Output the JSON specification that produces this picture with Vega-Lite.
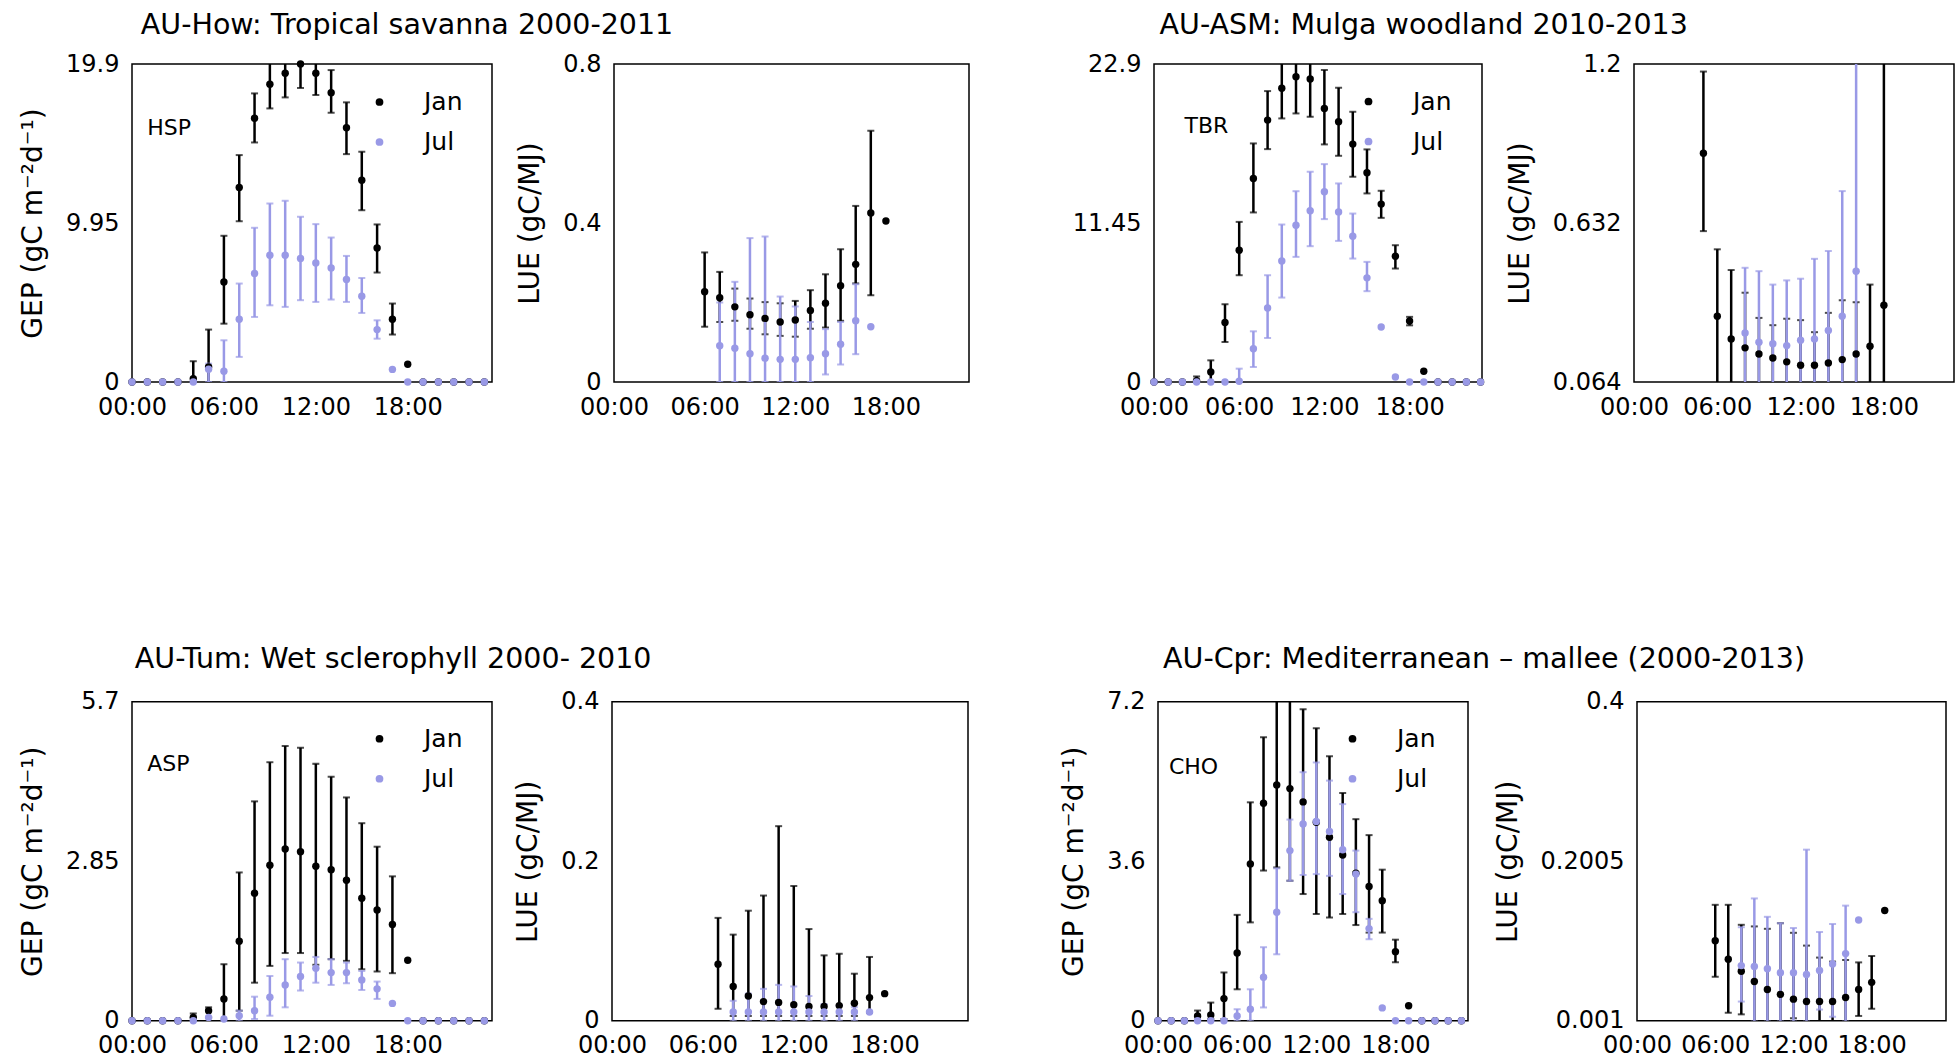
{
"$schema": "https://vega.github.io/schema/vega-lite/v6.json",
"background": "white",
"padding": {"left": 18, "top": 11, "right": 0, "bottom": 0},
"datasets": {
"how_gep": [
{"m":"Jan","h":0,"v":0},{"m":"Jan","h":1,"v":0},{"m":"Jan","h":2,"v":0},{"m":"Jan","h":3,"v":0},
{"m":"Jan","h":4,"v":0.2,"lo":0,"hi":1.3},{"m":"Jan","h":5,"v":0.94,"lo":0,"hi":3.28},
{"m":"Jan","h":6,"v":6.26,"lo":3.65,"hi":9.15},{"m":"Jan","h":7,"v":12.17,"lo":10.06,"hi":14.2},
{"m":"Jan","h":8,"v":16.5,"lo":14.99,"hi":18.06},{"m":"Jan","h":9,"v":18.63,"lo":17.12,"hi":20.2},
{"m":"Jan","h":10,"v":19.32,"lo":17.81,"hi":20.6},{"m":"Jan","h":11,"v":19.9,"lo":18.4,"hi":21.2},
{"m":"Jan","h":12,"v":19.32,"lo":17.96,"hi":20.6},{"m":"Jan","h":13,"v":18.1,"lo":16.85,"hi":19.52},
{"m":"Jan","h":14,"v":15.91,"lo":14.26,"hi":17.5},{"m":"Jan","h":15,"v":12.63,"lo":10.75,"hi":14.41},
{"m":"Jan","h":16,"v":8.39,"lo":6.85,"hi":9.86},{"m":"Jan","h":17,"v":3.93,"lo":2.97,"hi":4.91},
{"m":"Jan","h":18,"v":1.11},{"m":"Jan","h":19,"v":0},{"m":"Jan","h":20,"v":0},{"m":"Jan","h":21,"v":0},{"m":"Jan","h":22,"v":0},{"m":"Jan","h":23,"v":0},
{"m":"Jul","h":0,"v":0},{"m":"Jul","h":1,"v":0},{"m":"Jul","h":2,"v":0},{"m":"Jul","h":3,"v":0},{"m":"Jul","h":4,"v":0},
{"m":"Jul","h":5,"v":0.8,"lo":0,"hi":1.15},{"m":"Jul","h":6,"v":0.67,"lo":0,"hi":2.61},
{"m":"Jul","h":7,"v":3.93,"lo":1.57,"hi":6.16},{"m":"Jul","h":8,"v":6.79,"lo":4.07,"hi":9.65},
{"m":"Jul","h":9,"v":7.93,"lo":4.8,"hi":11.17},{"m":"Jul","h":10,"v":7.93,"lo":4.7,"hi":11.34},
{"m":"Jul","h":11,"v":7.73,"lo":5.12,"hi":10.34},{"m":"Jul","h":12,"v":7.45,"lo":5.01,"hi":9.88},
{"m":"Jul","h":13,"v":7.14,"lo":5.16,"hi":9.04},{"m":"Jul","h":14,"v":6.41,"lo":5.01,"hi":7.89},
{"m":"Jul","h":15,"v":5.37,"lo":4.32,"hi":6.51},{"m":"Jul","h":16,"v":3.28,"lo":2.71,"hi":3.86},
{"m":"Jul","h":17,"v":0.79},{"m":"Jul","h":18,"v":0},{"m":"Jul","h":19,"v":0},{"m":"Jul","h":20,"v":0},{"m":"Jul","h":21,"v":0},{"m":"Jul","h":22,"v":0},{"m":"Jul","h":23,"v":0}
],
"how_lue": [
{"m":"Jan","h":6,"v":0.227,"lo":0.139,"hi":0.326},{"m":"Jan","h":7,"v":0.212,"lo":0.151,"hi":0.277},
{"m":"Jan","h":8,"v":0.189,"lo":0.154,"hi":0.235},{"m":"Jan","h":9,"v":0.169,"lo":0.134,"hi":0.21},
{"m":"Jan","h":10,"v":0.16,"lo":0.12,"hi":0.201},{"m":"Jan","h":11,"v":0.151,"lo":0.116,"hi":0.198},
{"m":"Jan","h":12,"v":0.156,"lo":0.114,"hi":0.204},{"m":"Jan","h":13,"v":0.18,"lo":0.134,"hi":0.231},
{"m":"Jan","h":14,"v":0.198,"lo":0.137,"hi":0.271},{"m":"Jan","h":15,"v":0.242,"lo":0.154,"hi":0.334},
{"m":"Jan","h":16,"v":0.296,"lo":0.248,"hi":0.443},{"m":"Jan","h":17,"v":0.425,"lo":0.218,"hi":0.632},
{"m":"Jan","h":18,"v":0.405},
{"m":"Jul","h":7,"v":0.091,"lo":0,"hi":0.2},{"m":"Jul","h":8,"v":0.085,"lo":0,"hi":0.252},
{"m":"Jul","h":9,"v":0.071,"lo":0,"hi":0.362},{"m":"Jul","h":10,"v":0.06,"lo":0,"hi":0.366},
{"m":"Jul","h":11,"v":0.057,"lo":0,"hi":0.215},{"m":"Jul","h":12,"v":0.057,"lo":0,"hi":0.19},
{"m":"Jul","h":13,"v":0.061,"lo":0,"hi":0.151},{"m":"Jul","h":14,"v":0.071,"lo":0.019,"hi":0.133},
{"m":"Jul","h":15,"v":0.095,"lo":0.044,"hi":0.151},{"m":"Jul","h":16,"v":0.154,"lo":0.07,"hi":0.246},
{"m":"Jul","h":17,"v":0.139}
],
"asm_gep": [
{"m":"Jan","h":0,"v":0},{"m":"Jan","h":1,"v":0},{"m":"Jan","h":2,"v":0},
{"m":"Jan","h":3,"v":0.1,"lo":0,"hi":0.4},{"m":"Jan","h":4,"v":0.72,"lo":0,"hi":1.56},
{"m":"Jan","h":5,"v":4.28,"lo":2.88,"hi":5.6},{"m":"Jan","h":6,"v":9.49,"lo":7.69,"hi":11.53},
{"m":"Jan","h":7,"v":14.66,"lo":12.21,"hi":17.18},{"m":"Jan","h":8,"v":18.86,"lo":16.77,"hi":20.95},
{"m":"Jan","h":9,"v":21.15,"lo":18.98,"hi":23.5},{"m":"Jan","h":10,"v":21.99,"lo":19.34,"hi":23.8},
{"m":"Jan","h":11,"v":21.82,"lo":19.1,"hi":23.6},{"m":"Jan","h":12,"v":19.7,"lo":17.11,"hi":22.47},
{"m":"Jan","h":13,"v":18.74,"lo":16.29,"hi":21.19},{"m":"Jan","h":14,"v":17.13,"lo":14.78,"hi":19.46},
{"m":"Jan","h":15,"v":15.07,"lo":13.58,"hi":16.75},{"m":"Jan","h":16,"v":12.81,"lo":11.82,"hi":13.77},
{"m":"Jan","h":17,"v":9.06,"lo":8.17,"hi":9.85},{"m":"Jan","h":18,"v":4.4,"lo":4.08,"hi":4.69},
{"m":"Jan","h":19,"v":0.77},{"m":"Jan","h":20,"v":0},{"m":"Jan","h":21,"v":0},{"m":"Jan","h":22,"v":0},{"m":"Jan","h":23,"v":0},
{"m":"Jul","h":0,"v":0},{"m":"Jul","h":1,"v":0},{"m":"Jul","h":2,"v":0},{"m":"Jul","h":3,"v":0},{"m":"Jul","h":4,"v":0},{"m":"Jul","h":5,"v":0},
{"m":"Jul","h":6,"v":0.05,"lo":0,"hi":0.96},{"m":"Jul","h":7,"v":2.4,"lo":1.08,"hi":3.65},
{"m":"Jul","h":8,"v":5.33,"lo":3.17,"hi":7.69},{"m":"Jul","h":9,"v":8.72,"lo":6.08,"hi":11.34},
{"m":"Jul","h":10,"v":11.29,"lo":9.01,"hi":13.74},{"m":"Jul","h":11,"v":12.33,"lo":9.78,"hi":15.14},
{"m":"Jul","h":12,"v":13.7,"lo":11.73,"hi":15.69},{"m":"Jul","h":13,"v":12.25,"lo":10.16,"hi":14.3},
{"m":"Jul","h":14,"v":10.5,"lo":8.89,"hi":12.13},{"m":"Jul","h":15,"v":7.5,"lo":6.54,"hi":8.65},
{"m":"Jul","h":16,"v":3.96},{"m":"Jul","h":17,"v":0.36},{"m":"Jul","h":18,"v":0},{"m":"Jul","h":19,"v":0},{"m":"Jul","h":20,"v":0},{"m":"Jul","h":21,"v":0},{"m":"Jul","h":22,"v":0},{"m":"Jul","h":23,"v":0}
],
"asm_lue": [
{"m":"Jan","h":5,"v":0.881,"lo":0.603,"hi":1.173},{"m":"Jan","h":6,"v":0.299,"lo":0,"hi":0.538},
{"m":"Jan","h":7,"v":0.218,"lo":0,"hi":0.464},{"m":"Jan","h":8,"v":0.186,"lo":0,"hi":0.383},
{"m":"Jan","h":9,"v":0.164,"lo":0,"hi":0.293},{"m":"Jan","h":10,"v":0.15,"lo":0,"hi":0.267},
{"m":"Jan","h":11,"v":0.136,"lo":0,"hi":0.29},{"m":"Jan","h":12,"v":0.124,"lo":0,"hi":0.285},
{"m":"Jan","h":13,"v":0.124,"lo":0,"hi":0.242},{"m":"Jan","h":14,"v":0.132,"lo":0,"hi":0.311},
{"m":"Jan","h":15,"v":0.144,"lo":0,"hi":0.356},{"m":"Jan","h":16,"v":0.164,"lo":0,"hi":0.349},
{"m":"Jan","h":17,"v":0.192,"lo":0,"hi":0.412},{"m":"Jan","h":18,"v":0.338,"lo":0,"hi":1.6},
{"m":"Jul","h":8,"v":0.239,"lo":0,"hi":0.472},{"m":"Jul","h":9,"v":0.206,"lo":0,"hi":0.46},
{"m":"Jul","h":10,"v":0.201,"lo":0,"hi":0.412},{"m":"Jul","h":11,"v":0.194,"lo":0,"hi":0.427},
{"m":"Jul","h":12,"v":0.213,"lo":0,"hi":0.433},{"m":"Jul","h":13,"v":0.218,"lo":0,"hi":0.504},
{"m":"Jul","h":14,"v":0.248,"lo":0,"hi":0.532},{"m":"Jul","h":15,"v":0.299,"lo":0,"hi":0.746},
{"m":"Jul","h":16,"v":0.46,"lo":0,"hi":1.6}
],
"tum_gep": [
{"m":"Jan","h":0,"v":0},{"m":"Jan","h":1,"v":0},{"m":"Jan","h":2,"v":0},{"m":"Jan","h":3,"v":0},
{"m":"Jan","h":4,"v":0.06,"lo":0,"hi":0.13},{"m":"Jan","h":5,"v":0.18,"lo":0.06,"hi":0.24},
{"m":"Jan","h":6,"v":0.39,"lo":0,"hi":1.01},{"m":"Jan","h":7,"v":1.42,"lo":0.18,"hi":2.65},
{"m":"Jan","h":8,"v":2.28,"lo":0.68,"hi":3.92},{"m":"Jan","h":9,"v":2.78,"lo":0.98,"hi":4.62},
{"m":"Jan","h":10,"v":3.07,"lo":1.21,"hi":4.91},{"m":"Jan","h":11,"v":3.02,"lo":1.21,"hi":4.88},
{"m":"Jan","h":12,"v":2.76,"lo":1.0,"hi":4.59},{"m":"Jan","h":13,"v":2.7,"lo":1.1,"hi":4.36},
{"m":"Jan","h":14,"v":2.51,"lo":1.07,"hi":3.99},{"m":"Jan","h":15,"v":2.19,"lo":0.92,"hi":3.53},
{"m":"Jan","h":16,"v":1.98,"lo":0.88,"hi":3.11},{"m":"Jan","h":17,"v":1.72,"lo":0.85,"hi":2.58},
{"m":"Jan","h":18,"v":1.08},{"m":"Jan","h":19,"v":0},{"m":"Jan","h":20,"v":0},{"m":"Jan","h":21,"v":0},{"m":"Jan","h":22,"v":0},{"m":"Jan","h":23,"v":0},
{"m":"Jul","h":0,"v":0},{"m":"Jul","h":1,"v":0},{"m":"Jul","h":2,"v":0},{"m":"Jul","h":3,"v":0},{"m":"Jul","h":4,"v":0},
{"m":"Jul","h":5,"v":0.06},{"m":"Jul","h":6,"v":0.03},
{"m":"Jul","h":7,"v":0.09,"lo":0,"hi":0.18},{"m":"Jul","h":8,"v":0.18,"lo":0.03,"hi":0.43},
{"m":"Jul","h":9,"v":0.42,"lo":0.09,"hi":0.8},{"m":"Jul","h":10,"v":0.64,"lo":0.24,"hi":1.1},
{"m":"Jul","h":11,"v":0.79,"lo":0.54,"hi":1.04},{"m":"Jul","h":12,"v":0.94,"lo":0.68,"hi":1.14},
{"m":"Jul","h":13,"v":0.86,"lo":0.64,"hi":1.1},{"m":"Jul","h":14,"v":0.86,"lo":0.67,"hi":1.04},
{"m":"Jul","h":15,"v":0.73,"lo":0.55,"hi":0.89},{"m":"Jul","h":16,"v":0.57,"lo":0.39,"hi":0.7},
{"m":"Jul","h":17,"v":0.31},{"m":"Jul","h":18,"v":0},{"m":"Jul","h":19,"v":0},{"m":"Jul","h":20,"v":0},{"m":"Jul","h":21,"v":0},{"m":"Jul","h":22,"v":0},{"m":"Jul","h":23,"v":0}
],
"tum_lue": [
{"m":"Jan","h":7,"v":0.071,"lo":0.015,"hi":0.129},{"m":"Jan","h":8,"v":0.043,"lo":0.006,"hi":0.108},
{"m":"Jan","h":9,"v":0.031,"lo":0.006,"hi":0.138},{"m":"Jan","h":10,"v":0.024,"lo":0.006,"hi":0.157},
{"m":"Jan","h":11,"v":0.023,"lo":0.006,"hi":0.244},{"m":"Jan","h":12,"v":0.02,"lo":0.006,"hi":0.169},
{"m":"Jan","h":13,"v":0.018,"lo":0.006,"hi":0.115},{"m":"Jan","h":14,"v":0.018,"lo":0.006,"hi":0.082},
{"m":"Jan","h":15,"v":0.019,"lo":0.006,"hi":0.084},{"m":"Jan","h":16,"v":0.022,"lo":0.006,"hi":0.059},
{"m":"Jan","h":17,"v":0.029,"lo":0.01,"hi":0.08},{"m":"Jan","h":18,"v":0.034},
{"m":"Jul","h":8,"v":0.011,"lo":0,"hi":0.025},{"m":"Jul","h":9,"v":0.011,"lo":0,"hi":0.034},
{"m":"Jul","h":10,"v":0.011,"lo":0,"hi":0.04},{"m":"Jul","h":11,"v":0.011,"lo":0,"hi":0.045},
{"m":"Jul","h":12,"v":0.011,"lo":0,"hi":0.043},{"m":"Jul","h":13,"v":0.011,"lo":0,"hi":0.031},
{"m":"Jul","h":14,"v":0.011,"lo":0,"hi":0.021},{"m":"Jul","h":15,"v":0.011,"lo":0,"hi":0.019},
{"m":"Jul","h":16,"v":0.011,"lo":0,"hi":0.017},{"m":"Jul","h":17,"v":0.011}
],
"cpr_gep": [
{"m":"Jan","h":0,"v":0},{"m":"Jan","h":1,"v":0},{"m":"Jan","h":2,"v":0},
{"m":"Jan","h":3,"v":0.11,"lo":0,"hi":0.23},{"m":"Jan","h":4,"v":0.13,"lo":0.04,"hi":0.41},
{"m":"Jan","h":5,"v":0.5,"lo":0.04,"hi":1.09},{"m":"Jan","h":6,"v":1.53,"lo":0.71,"hi":2.39},
{"m":"Jan","h":7,"v":3.54,"lo":2.22,"hi":4.93},{"m":"Jan","h":8,"v":4.91,"lo":3.39,"hi":6.4},
{"m":"Jan","h":9,"v":5.32,"lo":3.46,"hi":7.6},{"m":"Jan","h":10,"v":5.24,"lo":3.16,"hi":7.6},
{"m":"Jan","h":11,"v":4.94,"lo":2.86,"hi":7.03},{"m":"Jan","h":12,"v":4.48,"lo":2.41,"hi":6.6},
{"m":"Jan","h":13,"v":4.14,"lo":2.33,"hi":5.97},{"m":"Jan","h":14,"v":3.74,"lo":2.41,"hi":5.14},
{"m":"Jan","h":15,"v":3.33,"lo":2.16,"hi":4.55},{"m":"Jan","h":16,"v":3.03,"lo":1.99,"hi":4.19},
{"m":"Jan","h":17,"v":2.71,"lo":1.99,"hi":3.41},{"m":"Jan","h":18,"v":1.56,"lo":1.32,"hi":1.83},
{"m":"Jan","h":19,"v":0.34},{"m":"Jan","h":20,"v":0},{"m":"Jan","h":21,"v":0},{"m":"Jan","h":22,"v":0},{"m":"Jan","h":23,"v":0},
{"m":"Jul","h":0,"v":0},{"m":"Jul","h":1,"v":0},{"m":"Jul","h":2,"v":0},{"m":"Jul","h":3,"v":0},{"m":"Jul","h":4,"v":0},{"m":"Jul","h":5,"v":0},
{"m":"Jul","h":6,"v":0.11,"lo":0,"hi":0.26},{"m":"Jul","h":7,"v":0.26,"lo":0,"hi":0.71},
{"m":"Jul","h":8,"v":0.98,"lo":0.3,"hi":1.66},{"m":"Jul","h":9,"v":2.45,"lo":1.5,"hi":3.44},
{"m":"Jul","h":10,"v":3.84,"lo":3.16,"hi":4.54},{"m":"Jul","h":11,"v":4.44,"lo":3.29,"hi":5.61},
{"m":"Jul","h":12,"v":4.5,"lo":3.31,"hi":5.83},{"m":"Jul","h":13,"v":4.27,"lo":3.27,"hi":5.42},
{"m":"Jul","h":14,"v":3.86,"lo":2.86,"hi":4.89},{"m":"Jul","h":15,"v":3.31,"lo":2.45,"hi":3.84},
{"m":"Jul","h":16,"v":2.08,"lo":1.84,"hi":2.3},{"m":"Jul","h":17,"v":0.29},
{"m":"Jul","h":18,"v":0},{"m":"Jul","h":19,"v":0},{"m":"Jul","h":20,"v":0},{"m":"Jul","h":21,"v":0},{"m":"Jul","h":22,"v":0},{"m":"Jul","h":23,"v":0}
],
"cpr_lue": [
{"m":"Jan","h":6,"v":0.101,"lo":0.056,"hi":0.146},{"m":"Jan","h":7,"v":0.078,"lo":0.011,"hi":0.146},
{"m":"Jan","h":8,"v":0.063,"lo":0.009,"hi":0.121},{"m":"Jan","h":9,"v":0.05,"lo":0,"hi":0.119},
{"m":"Jan","h":10,"v":0.04,"lo":0,"hi":0.116},{"m":"Jan","h":11,"v":0.034,"lo":0,"hi":0.123},
{"m":"Jan","h":12,"v":0.028,"lo":0.004,"hi":0.111},{"m":"Jan","h":13,"v":0.025,"lo":0,"hi":0.095},
{"m":"Jan","h":14,"v":0.025,"lo":0,"hi":0.08},{"m":"Jan","h":15,"v":0.025,"lo":0,"hi":0.075},
{"m":"Jan","h":16,"v":0.03,"lo":0,"hi":0.077},{"m":"Jan","h":17,"v":0.04,"lo":0.007,"hi":0.074},
{"m":"Jan","h":18,"v":0.049,"lo":0.016,"hi":0.082},{"m":"Jan","h":19,"v":0.139},
{"m":"Jul","h":8,"v":0.07,"lo":0.025,"hi":0.118},{"m":"Jul","h":9,"v":0.069,"lo":0,"hi":0.154},
{"m":"Jul","h":10,"v":0.066,"lo":0,"hi":0.131},{"m":"Jul","h":11,"v":0.061,"lo":0,"hi":0.123},
{"m":"Jul","h":12,"v":0.061,"lo":0,"hi":0.117},{"m":"Jul","h":13,"v":0.059,"lo":0,"hi":0.215},
{"m":"Jul","h":14,"v":0.064,"lo":0.015,"hi":0.112},{"m":"Jul","h":15,"v":0.072,"lo":0.006,"hi":0.122},
{"m":"Jul","h":16,"v":0.085,"lo":0,"hi":0.145},{"m":"Jul","h":17,"v":0.127}
]
},
"config": {
"font": "DejaVu Sans",
"view": {"stroke": "#000000", "strokeWidth": 1.5},
"axis": {"domain": false, "ticks": false, "tickSize": 0, "grid": false, "labelFont": "DejaVu Sans", "labelFontSize": 24, "labelColor": "#000000", "labelPadding": 13, "labelFlush": false, "labelOverlap": false, "titleFont": "DejaVu Sans", "titleFontSize": 28, "titleFontWeight": "normal", "titleColor": "#000000", "titlePadding": 18},
"title": {"font": "DejaVu Sans", "fontSize": 28.5, "fontWeight": "normal", "color": "#000000", "anchor": "start", "frame": "bounds", "offset": 14},
"legend": {"padding": 0, "labelFont": "DejaVu Sans", "labelFontSize": 25, "labelColor": "#000000", "symbolSize": 60, "symbolType": "circle", "rowPadding": 14, "symbolStrokeWidth": 0}
},
"spacing": 224.75,
"resolve": {"scale": {"color": "independent"}, "legend": {"color": "independent"}},
"vconcat": [
{"spacing": 101,
 "resolve": {"scale": {"color": "independent"}, "legend": {"color": "independent"}},
 "hconcat": [
 {"title": {"text": "AU-How: Tropical savanna 2000-2011", "dx": 122, "offset": 11.5},
  "spacing": 23,
  "resolve": {"scale": {"color": "independent"}, "legend": {"color": "independent"}},
  "hconcat": [
  {"width": 360, "height": 318, "data": {"name": "how_gep"},
   "encoding": {"x": {"field": "h", "type": "quantitative", "scale": {"domain": [0, 23.5], "nice": false, "zero": false}, "axis": {"values": [0, 6, 12, 18], "labelExpr": "(datum.value < 10 ? '0' : '') + datum.value + ':00'", "title": null}}},
   "layer": [
    {"transform": [{"filter": "datum.m == 'Jan' && datum.lo != null"}], "mark": {"type": "rule", "strokeWidth": 2.5, "clip": true, "color": "#000000"},
     "encoding": {"y": {"field": "lo", "type": "quantitative", "scale": {"domain": [0, 19.9], "nice": false, "zero": false}, "axis": {"values": [0, 9.95, 19.9], "labelExpr": "'' + datum.value", "title": "GEP (gC m⁻²d⁻¹)"}}, "y2": {"field": "hi"}}},
    {"transform": [{"filter": "datum.m == 'Jan' && datum.lo != null"}, {"fold": ["lo", "hi"], "as": ["k", "e"]}], "mark": {"type": "tick", "orient": "horizontal", "size": 7, "thickness": 2, "clip": true, "color": "#000000"},
     "encoding": {"y": {"field": "e", "type": "quantitative", "scale": {"domain": [0, 19.9], "nice": false, "zero": false}, "axis": {"values": [0, 9.95, 19.9], "labelExpr": "'' + datum.value", "title": "GEP (gC m⁻²d⁻¹)"}}}},
    {"transform": [{"filter": "datum.m == 'Jul' && datum.lo != null"}], "mark": {"type": "rule", "strokeWidth": 2.5, "clip": true, "color": "#9999e6"},
     "encoding": {"y": {"field": "lo", "type": "quantitative", "scale": {"domain": [0, 19.9], "nice": false, "zero": false}, "axis": {"values": [0, 9.95, 19.9], "labelExpr": "'' + datum.value", "title": "GEP (gC m⁻²d⁻¹)"}}, "y2": {"field": "hi"}}},
    {"transform": [{"filter": "datum.m == 'Jul' && datum.lo != null"}, {"fold": ["lo", "hi"], "as": ["k", "e"]}], "mark": {"type": "tick", "orient": "horizontal", "size": 7, "thickness": 2, "clip": true, "color": "#9999e6"},
     "encoding": {"y": {"field": "e", "type": "quantitative", "scale": {"domain": [0, 19.9], "nice": false, "zero": false}, "axis": {"values": [0, 9.95, 19.9], "labelExpr": "'' + datum.value", "title": "GEP (gC m⁻²d⁻¹)"}}}},
    {"mark": {"type": "point", "filled": true, "size": 55, "opacity": 1},
     "encoding": {"y": {"field": "v", "type": "quantitative", "scale": {"domain": [0, 19.9], "nice": false, "zero": false}, "axis": {"values": [0, 9.95, 19.9], "labelExpr": "'' + datum.value", "title": "GEP (gC m⁻²d⁻¹)"}},
      "color": {"field": "m", "type": "nominal", "scale": {"domain": ["Jan", "Jul"], "range": ["#000000", "#9999e6"]}, "legend": {"title": null, "orient": "none", "legendX": 235, "legendY": 25.5, "labelOffset": 32}}}},
    {"data": {"values": [{"h": 1.0, "v": 15.45, "t": "HSP"}]}, "mark": {"type": "text", "align": "left", "baseline": "alphabetic", "fontSize": 22, "font": "DejaVu Sans", "color": "#000000"},
     "encoding": {"y": {"field": "v", "type": "quantitative", "scale": {"domain": [0, 19.9], "nice": false, "zero": false}, "axis": {"values": [0, 9.95, 19.9], "labelExpr": "'' + datum.value", "title": "GEP (gC m⁻²d⁻¹)"}}, "text": {"field": "t"}}}
   ]},
  {"width": 355, "height": 318, "data": {"name": "how_lue"},
   "encoding": {"x": {"field": "h", "type": "quantitative", "scale": {"domain": [0, 23.5], "nice": false, "zero": false}, "axis": {"values": [0, 6, 12, 18], "labelExpr": "(datum.value < 10 ? '0' : '') + datum.value + ':00'", "title": null}}},
   "layer": [
    {"transform": [{"filter": "datum.m == 'Jan' && datum.lo != null"}], "mark": {"type": "rule", "strokeWidth": 2.5, "clip": true, "color": "#000000"},
     "encoding": {"y": {"field": "lo", "type": "quantitative", "scale": {"domain": [0, 0.8], "nice": false, "zero": false}, "axis": {"values": [0, 0.4, 0.8], "labelExpr": "'' + datum.value", "title": "LUE (gC/MJ)"}}, "y2": {"field": "hi"}}},
    {"transform": [{"filter": "datum.m == 'Jan' && datum.lo != null"}, {"fold": ["lo", "hi"], "as": ["k", "e"]}], "mark": {"type": "tick", "orient": "horizontal", "size": 7, "thickness": 2, "clip": true, "color": "#000000"},
     "encoding": {"y": {"field": "e", "type": "quantitative", "scale": {"domain": [0, 0.8], "nice": false, "zero": false}, "axis": {"values": [0, 0.4, 0.8], "labelExpr": "'' + datum.value", "title": "LUE (gC/MJ)"}}}},
    {"transform": [{"filter": "datum.m == 'Jul' && datum.lo != null"}], "mark": {"type": "rule", "strokeWidth": 2.5, "clip": true, "color": "#9999e6"},
     "encoding": {"y": {"field": "lo", "type": "quantitative", "scale": {"domain": [0, 0.8], "nice": false, "zero": false}, "axis": {"values": [0, 0.4, 0.8], "labelExpr": "'' + datum.value", "title": "LUE (gC/MJ)"}}, "y2": {"field": "hi"}}},
    {"transform": [{"filter": "datum.m == 'Jul' && datum.lo != null"}, {"fold": ["lo", "hi"], "as": ["k", "e"]}], "mark": {"type": "tick", "orient": "horizontal", "size": 7, "thickness": 2, "clip": true, "color": "#9999e6"},
     "encoding": {"y": {"field": "e", "type": "quantitative", "scale": {"domain": [0, 0.8], "nice": false, "zero": false}, "axis": {"values": [0, 0.4, 0.8], "labelExpr": "'' + datum.value", "title": "LUE (gC/MJ)"}}}},
    {"mark": {"type": "point", "filled": true, "size": 55, "opacity": 1},
     "encoding": {"y": {"field": "v", "type": "quantitative", "scale": {"domain": [0, 0.8], "nice": false, "zero": false}, "axis": {"values": [0, 0.4, 0.8], "labelExpr": "'' + datum.value", "title": "LUE (gC/MJ)"}},
      "color": {"field": "m", "type": "nominal", "scale": {"domain": ["Jan", "Jul"], "range": ["#000000", "#9999e6"]}, "legend": null}}}
   ]}
  ]},
 {"title": {"text": "AU-ASM: Mulga woodland 2010-2013", "dx": 88, "offset": 11.5},
  "spacing": 19,
  "resolve": {"scale": {"color": "independent"}, "legend": {"color": "independent"}},
  "hconcat": [
  {"width": 328, "height": 318, "data": {"name": "asm_gep"},
   "encoding": {"x": {"field": "h", "type": "quantitative", "scale": {"domain": [0, 23.1], "nice": false, "zero": false}, "axis": {"values": [0, 6, 12, 18], "labelExpr": "(datum.value < 10 ? '0' : '') + datum.value + ':00'", "title": null}}},
   "layer": [
    {"transform": [{"filter": "datum.m == 'Jan' && datum.lo != null"}], "mark": {"type": "rule", "strokeWidth": 2.5, "clip": true, "color": "#000000"},
     "encoding": {"y": {"field": "lo", "type": "quantitative", "scale": {"domain": [0, 22.9], "nice": false, "zero": false}, "axis": {"values": [0, 11.45, 22.9], "labelExpr": "'' + datum.value", "title": null}}, "y2": {"field": "hi"}}},
    {"transform": [{"filter": "datum.m == 'Jan' && datum.lo != null"}, {"fold": ["lo", "hi"], "as": ["k", "e"]}], "mark": {"type": "tick", "orient": "horizontal", "size": 7, "thickness": 2, "clip": true, "color": "#000000"},
     "encoding": {"y": {"field": "e", "type": "quantitative", "scale": {"domain": [0, 22.9], "nice": false, "zero": false}, "axis": {"values": [0, 11.45, 22.9], "labelExpr": "'' + datum.value", "title": null}}}},
    {"transform": [{"filter": "datum.m == 'Jul' && datum.lo != null"}], "mark": {"type": "rule", "strokeWidth": 2.5, "clip": true, "color": "#9999e6"},
     "encoding": {"y": {"field": "lo", "type": "quantitative", "scale": {"domain": [0, 22.9], "nice": false, "zero": false}, "axis": {"values": [0, 11.45, 22.9], "labelExpr": "'' + datum.value", "title": null}}, "y2": {"field": "hi"}}},
    {"transform": [{"filter": "datum.m == 'Jul' && datum.lo != null"}, {"fold": ["lo", "hi"], "as": ["k", "e"]}], "mark": {"type": "tick", "orient": "horizontal", "size": 7, "thickness": 2, "clip": true, "color": "#9999e6"},
     "encoding": {"y": {"field": "e", "type": "quantitative", "scale": {"domain": [0, 22.9], "nice": false, "zero": false}, "axis": {"values": [0, 11.45, 22.9], "labelExpr": "'' + datum.value", "title": null}}}},
    {"mark": {"type": "point", "filled": true, "size": 55, "opacity": 1},
     "encoding": {"y": {"field": "v", "type": "quantitative", "scale": {"domain": [0, 22.9], "nice": false, "zero": false}, "axis": {"values": [0, 11.45, 22.9], "labelExpr": "'' + datum.value", "title": null}},
      "color": {"field": "m", "type": "nominal", "scale": {"domain": ["Jan", "Jul"], "range": ["#000000", "#9999e6"]}, "legend": {"title": null, "orient": "none", "legendX": 202, "legendY": 25, "labelOffset": 32}}}},
    {"data": {"values": [{"h": 2.15, "v": 17.9, "t": "TBR"}]}, "mark": {"type": "text", "align": "left", "baseline": "alphabetic", "fontSize": 22, "font": "DejaVu Sans", "color": "#000000"},
     "encoding": {"y": {"field": "v", "type": "quantitative", "scale": {"domain": [0, 22.9], "nice": false, "zero": false}, "axis": {"values": [0, 11.45, 22.9], "labelExpr": "'' + datum.value", "title": null}}, "text": {"field": "t"}}}
   ]},
  {"width": 320, "height": 318, "data": {"name": "asm_lue"},
   "encoding": {"x": {"field": "h", "type": "quantitative", "scale": {"domain": [0, 23.05], "nice": false, "zero": false}, "axis": {"values": [0, 6, 12, 18], "labelExpr": "(datum.value < 10 ? '0' : '') + datum.value + ':00'", "title": null}}},
   "layer": [
    {"transform": [{"filter": "datum.m == 'Jan' && datum.lo != null"}], "mark": {"type": "rule", "strokeWidth": 2.5, "clip": true, "color": "#000000"},
     "encoding": {"y": {"field": "lo", "type": "quantitative", "scale": {"domain": [0.064, 1.2], "nice": false, "zero": false}, "axis": {"values": [0.064, 0.632, 1.2], "labelExpr": "'' + datum.value", "title": "LUE (gC/MJ)"}}, "y2": {"field": "hi"}}},
    {"transform": [{"filter": "datum.m == 'Jan' && datum.lo != null"}, {"fold": ["lo", "hi"], "as": ["k", "e"]}], "mark": {"type": "tick", "orient": "horizontal", "size": 7, "thickness": 2, "clip": true, "color": "#000000"},
     "encoding": {"y": {"field": "e", "type": "quantitative", "scale": {"domain": [0.064, 1.2], "nice": false, "zero": false}, "axis": {"values": [0.064, 0.632, 1.2], "labelExpr": "'' + datum.value", "title": "LUE (gC/MJ)"}}}},
    {"transform": [{"filter": "datum.m == 'Jul' && datum.lo != null"}], "mark": {"type": "rule", "strokeWidth": 2.5, "clip": true, "color": "#9999e6"},
     "encoding": {"y": {"field": "lo", "type": "quantitative", "scale": {"domain": [0.064, 1.2], "nice": false, "zero": false}, "axis": {"values": [0.064, 0.632, 1.2], "labelExpr": "'' + datum.value", "title": "LUE (gC/MJ)"}}, "y2": {"field": "hi"}}},
    {"transform": [{"filter": "datum.m == 'Jul' && datum.lo != null"}, {"fold": ["lo", "hi"], "as": ["k", "e"]}], "mark": {"type": "tick", "orient": "horizontal", "size": 7, "thickness": 2, "clip": true, "color": "#9999e6"},
     "encoding": {"y": {"field": "e", "type": "quantitative", "scale": {"domain": [0.064, 1.2], "nice": false, "zero": false}, "axis": {"values": [0.064, 0.632, 1.2], "labelExpr": "'' + datum.value", "title": "LUE (gC/MJ)"}}}},
    {"mark": {"type": "point", "filled": true, "size": 55, "opacity": 1},
     "encoding": {"y": {"field": "v", "type": "quantitative", "scale": {"domain": [0.064, 1.2], "nice": false, "zero": false}, "axis": {"values": [0.064, 0.632, 1.2], "labelExpr": "'' + datum.value", "title": "LUE (gC/MJ)"}},
      "color": {"field": "m", "type": "nominal", "scale": {"domain": ["Jan", "Jul"], "range": ["#000000", "#9999e6"]}, "legend": null}}}
   ]}
  ]}
 ]},
{"spacing": 91,
 "resolve": {"scale": {"color": "independent"}, "legend": {"color": "independent"}},
 "hconcat": [
 {"title": {"text": "AU-Tum: Wet sclerophyll 2000- 2010", "dx": 116, "offset": 15.25},
  "spacing": 21,
  "resolve": {"scale": {"color": "independent"}, "legend": {"color": "independent"}},
  "hconcat": [
  {"width": 360, "height": 319, "data": {"name": "tum_gep"},
   "encoding": {"x": {"field": "h", "type": "quantitative", "scale": {"domain": [0, 23.5], "nice": false, "zero": false}, "axis": {"values": [0, 6, 12, 18], "labelExpr": "(datum.value < 10 ? '0' : '') + datum.value + ':00'", "title": null}}},
   "layer": [
    {"transform": [{"filter": "datum.m == 'Jan' && datum.lo != null"}], "mark": {"type": "rule", "strokeWidth": 2.5, "clip": true, "color": "#000000"},
     "encoding": {"y": {"field": "lo", "type": "quantitative", "scale": {"domain": [0, 5.7], "nice": false, "zero": false}, "axis": {"values": [0, 2.85, 5.7], "labelExpr": "'' + datum.value", "title": "GEP (gC m⁻²d⁻¹)"}}, "y2": {"field": "hi"}}},
    {"transform": [{"filter": "datum.m == 'Jan' && datum.lo != null"}, {"fold": ["lo", "hi"], "as": ["k", "e"]}], "mark": {"type": "tick", "orient": "horizontal", "size": 7, "thickness": 2, "clip": true, "color": "#000000"},
     "encoding": {"y": {"field": "e", "type": "quantitative", "scale": {"domain": [0, 5.7], "nice": false, "zero": false}, "axis": {"values": [0, 2.85, 5.7], "labelExpr": "'' + datum.value", "title": "GEP (gC m⁻²d⁻¹)"}}}},
    {"transform": [{"filter": "datum.m == 'Jul' && datum.lo != null"}], "mark": {"type": "rule", "strokeWidth": 2.5, "clip": true, "color": "#9999e6"},
     "encoding": {"y": {"field": "lo", "type": "quantitative", "scale": {"domain": [0, 5.7], "nice": false, "zero": false}, "axis": {"values": [0, 2.85, 5.7], "labelExpr": "'' + datum.value", "title": "GEP (gC m⁻²d⁻¹)"}}, "y2": {"field": "hi"}}},
    {"transform": [{"filter": "datum.m == 'Jul' && datum.lo != null"}, {"fold": ["lo", "hi"], "as": ["k", "e"]}], "mark": {"type": "tick", "orient": "horizontal", "size": 7, "thickness": 2, "clip": true, "color": "#9999e6"},
     "encoding": {"y": {"field": "e", "type": "quantitative", "scale": {"domain": [0, 5.7], "nice": false, "zero": false}, "axis": {"values": [0, 2.85, 5.7], "labelExpr": "'' + datum.value", "title": "GEP (gC m⁻²d⁻¹)"}}}},
    {"mark": {"type": "point", "filled": true, "size": 55, "opacity": 1},
     "encoding": {"y": {"field": "v", "type": "quantitative", "scale": {"domain": [0, 5.7], "nice": false, "zero": false}, "axis": {"values": [0, 2.85, 5.7], "labelExpr": "'' + datum.value", "title": "GEP (gC m⁻²d⁻¹)"}},
      "color": {"field": "m", "type": "nominal", "scale": {"domain": ["Jan", "Jul"], "range": ["#000000", "#9999e6"]}, "legend": {"title": null, "orient": "none", "legendX": 235, "legendY": 24.5, "labelOffset": 32}}}},
    {"data": {"values": [{"h": 1.0, "v": 4.47, "t": "ASP"}]}, "mark": {"type": "text", "align": "left", "baseline": "alphabetic", "fontSize": 22, "font": "DejaVu Sans", "color": "#000000"},
     "encoding": {"y": {"field": "v", "type": "quantitative", "scale": {"domain": [0, 5.7], "nice": false, "zero": false}, "axis": {"values": [0, 2.85, 5.7], "labelExpr": "'' + datum.value", "title": "GEP (gC m⁻²d⁻¹)"}}, "text": {"field": "t"}}}
   ]},
  {"width": 356, "height": 319, "data": {"name": "tum_lue"},
   "encoding": {"x": {"field": "h", "type": "quantitative", "scale": {"domain": [0, 23.5], "nice": false, "zero": false}, "axis": {"values": [0, 6, 12, 18], "labelExpr": "(datum.value < 10 ? '0' : '') + datum.value + ':00'", "title": null}}},
   "layer": [
    {"transform": [{"filter": "datum.m == 'Jan' && datum.lo != null"}], "mark": {"type": "rule", "strokeWidth": 2.5, "clip": true, "color": "#000000"},
     "encoding": {"y": {"field": "lo", "type": "quantitative", "scale": {"domain": [0, 0.4], "nice": false, "zero": false}, "axis": {"values": [0, 0.2, 0.4], "labelExpr": "'' + datum.value", "title": "LUE (gC/MJ)"}}, "y2": {"field": "hi"}}},
    {"transform": [{"filter": "datum.m == 'Jan' && datum.lo != null"}, {"fold": ["lo", "hi"], "as": ["k", "e"]}], "mark": {"type": "tick", "orient": "horizontal", "size": 7, "thickness": 2, "clip": true, "color": "#000000"},
     "encoding": {"y": {"field": "e", "type": "quantitative", "scale": {"domain": [0, 0.4], "nice": false, "zero": false}, "axis": {"values": [0, 0.2, 0.4], "labelExpr": "'' + datum.value", "title": "LUE (gC/MJ)"}}}},
    {"transform": [{"filter": "datum.m == 'Jul' && datum.lo != null"}], "mark": {"type": "rule", "strokeWidth": 2.5, "clip": true, "color": "#9999e6"},
     "encoding": {"y": {"field": "lo", "type": "quantitative", "scale": {"domain": [0, 0.4], "nice": false, "zero": false}, "axis": {"values": [0, 0.2, 0.4], "labelExpr": "'' + datum.value", "title": "LUE (gC/MJ)"}}, "y2": {"field": "hi"}}},
    {"transform": [{"filter": "datum.m == 'Jul' && datum.lo != null"}, {"fold": ["lo", "hi"], "as": ["k", "e"]}], "mark": {"type": "tick", "orient": "horizontal", "size": 7, "thickness": 2, "clip": true, "color": "#9999e6"},
     "encoding": {"y": {"field": "e", "type": "quantitative", "scale": {"domain": [0, 0.4], "nice": false, "zero": false}, "axis": {"values": [0, 0.2, 0.4], "labelExpr": "'' + datum.value", "title": "LUE (gC/MJ)"}}}},
    {"mark": {"type": "point", "filled": true, "size": 55, "opacity": 1},
     "encoding": {"y": {"field": "v", "type": "quantitative", "scale": {"domain": [0, 0.4], "nice": false, "zero": false}, "axis": {"values": [0, 0.2, 0.4], "labelExpr": "'' + datum.value", "title": "LUE (gC/MJ)"}},
      "color": {"field": "m", "type": "nominal", "scale": {"domain": ["Jan", "Jul"], "range": ["#000000", "#9999e6"]}, "legend": null}}}
   ]}
  ]},
 {"title": {"text": "AU-Cpr: Mediterranean – mallee (2000-2013)", "dx": 103, "offset": 15.25},
  "spacing": 24,
  "resolve": {"scale": {"color": "independent"}, "legend": {"color": "independent"}},
  "hconcat": [
  {"width": 310, "height": 319, "data": {"name": "cpr_gep"},
   "encoding": {"x": {"field": "h", "type": "quantitative", "scale": {"domain": [0, 23.5], "nice": false, "zero": false}, "axis": {"values": [0, 6, 12, 18], "labelExpr": "(datum.value < 10 ? '0' : '') + datum.value + ':00'", "title": null}}},
   "layer": [
    {"transform": [{"filter": "datum.m == 'Jan' && datum.lo != null"}], "mark": {"type": "rule", "strokeWidth": 2.5, "clip": true, "color": "#000000"},
     "encoding": {"y": {"field": "lo", "type": "quantitative", "scale": {"domain": [0, 7.2], "nice": false, "zero": false}, "axis": {"values": [0, 3.6, 7.2], "labelExpr": "'' + datum.value", "title": "GEP (gC m⁻²d⁻¹)"}}, "y2": {"field": "hi"}}},
    {"transform": [{"filter": "datum.m == 'Jan' && datum.lo != null"}, {"fold": ["lo", "hi"], "as": ["k", "e"]}], "mark": {"type": "tick", "orient": "horizontal", "size": 7, "thickness": 2, "clip": true, "color": "#000000"},
     "encoding": {"y": {"field": "e", "type": "quantitative", "scale": {"domain": [0, 7.2], "nice": false, "zero": false}, "axis": {"values": [0, 3.6, 7.2], "labelExpr": "'' + datum.value", "title": "GEP (gC m⁻²d⁻¹)"}}}},
    {"transform": [{"filter": "datum.m == 'Jul' && datum.lo != null"}], "mark": {"type": "rule", "strokeWidth": 2.5, "clip": true, "color": "#9999e6"},
     "encoding": {"y": {"field": "lo", "type": "quantitative", "scale": {"domain": [0, 7.2], "nice": false, "zero": false}, "axis": {"values": [0, 3.6, 7.2], "labelExpr": "'' + datum.value", "title": "GEP (gC m⁻²d⁻¹)"}}, "y2": {"field": "hi"}}},
    {"transform": [{"filter": "datum.m == 'Jul' && datum.lo != null"}, {"fold": ["lo", "hi"], "as": ["k", "e"]}], "mark": {"type": "tick", "orient": "horizontal", "size": 7, "thickness": 2, "clip": true, "color": "#9999e6"},
     "encoding": {"y": {"field": "e", "type": "quantitative", "scale": {"domain": [0, 7.2], "nice": false, "zero": false}, "axis": {"values": [0, 3.6, 7.2], "labelExpr": "'' + datum.value", "title": "GEP (gC m⁻²d⁻¹)"}}}},
    {"mark": {"type": "point", "filled": true, "size": 55, "opacity": 1},
     "encoding": {"y": {"field": "v", "type": "quantitative", "scale": {"domain": [0, 7.2], "nice": false, "zero": false}, "axis": {"values": [0, 3.6, 7.2], "labelExpr": "'' + datum.value", "title": "GEP (gC m⁻²d⁻¹)"}},
      "color": {"field": "m", "type": "nominal", "scale": {"domain": ["Jan", "Jul"], "range": ["#000000", "#9999e6"]}, "legend": {"title": null, "orient": "none", "legendX": 182, "legendY": 24.5, "labelOffset": 32}}}},
    {"data": {"values": [{"h": 0.83, "v": 5.58, "t": "CHO"}]}, "mark": {"type": "text", "align": "left", "baseline": "alphabetic", "fontSize": 22, "font": "DejaVu Sans", "color": "#000000"},
     "encoding": {"y": {"field": "v", "type": "quantitative", "scale": {"domain": [0, 7.2], "nice": false, "zero": false}, "axis": {"values": [0, 3.6, 7.2], "labelExpr": "'' + datum.value", "title": "GEP (gC m⁻²d⁻¹)"}}, "text": {"field": "t"}}}
   ]},
  {"width": 309, "height": 319, "data": {"name": "cpr_lue"},
   "encoding": {"x": {"field": "h", "type": "quantitative", "scale": {"domain": [0, 23.7], "nice": false, "zero": false}, "axis": {"values": [0, 6, 12, 18], "labelExpr": "(datum.value < 10 ? '0' : '') + datum.value + ':00'", "title": null}}},
   "layer": [
    {"transform": [{"filter": "datum.m == 'Jan' && datum.lo != null"}], "mark": {"type": "rule", "strokeWidth": 2.5, "clip": true, "color": "#000000"},
     "encoding": {"y": {"field": "lo", "type": "quantitative", "scale": {"domain": [0.001, 0.4], "nice": false, "zero": false}, "axis": {"values": [0.001, 0.2005, 0.4], "labelExpr": "'' + datum.value", "title": "LUE (gC/MJ)"}}, "y2": {"field": "hi"}}},
    {"transform": [{"filter": "datum.m == 'Jan' && datum.lo != null"}, {"fold": ["lo", "hi"], "as": ["k", "e"]}], "mark": {"type": "tick", "orient": "horizontal", "size": 7, "thickness": 2, "clip": true, "color": "#000000"},
     "encoding": {"y": {"field": "e", "type": "quantitative", "scale": {"domain": [0.001, 0.4], "nice": false, "zero": false}, "axis": {"values": [0.001, 0.2005, 0.4], "labelExpr": "'' + datum.value", "title": "LUE (gC/MJ)"}}}},
    {"transform": [{"filter": "datum.m == 'Jul' && datum.lo != null"}], "mark": {"type": "rule", "strokeWidth": 2.5, "clip": true, "color": "#9999e6"},
     "encoding": {"y": {"field": "lo", "type": "quantitative", "scale": {"domain": [0.001, 0.4], "nice": false, "zero": false}, "axis": {"values": [0.001, 0.2005, 0.4], "labelExpr": "'' + datum.value", "title": "LUE (gC/MJ)"}}, "y2": {"field": "hi"}}},
    {"transform": [{"filter": "datum.m == 'Jul' && datum.lo != null"}, {"fold": ["lo", "hi"], "as": ["k", "e"]}], "mark": {"type": "tick", "orient": "horizontal", "size": 7, "thickness": 2, "clip": true, "color": "#9999e6"},
     "encoding": {"y": {"field": "e", "type": "quantitative", "scale": {"domain": [0.001, 0.4], "nice": false, "zero": false}, "axis": {"values": [0.001, 0.2005, 0.4], "labelExpr": "'' + datum.value", "title": "LUE (gC/MJ)"}}}},
    {"mark": {"type": "point", "filled": true, "size": 55, "opacity": 1},
     "encoding": {"y": {"field": "v", "type": "quantitative", "scale": {"domain": [0.001, 0.4], "nice": false, "zero": false}, "axis": {"values": [0.001, 0.2005, 0.4], "labelExpr": "'' + datum.value", "title": "LUE (gC/MJ)"}},
      "color": {"field": "m", "type": "nominal", "scale": {"domain": ["Jan", "Jul"], "range": ["#000000", "#9999e6"]}, "legend": null}}}
   ]}
  ]}
 ]}
]
}
